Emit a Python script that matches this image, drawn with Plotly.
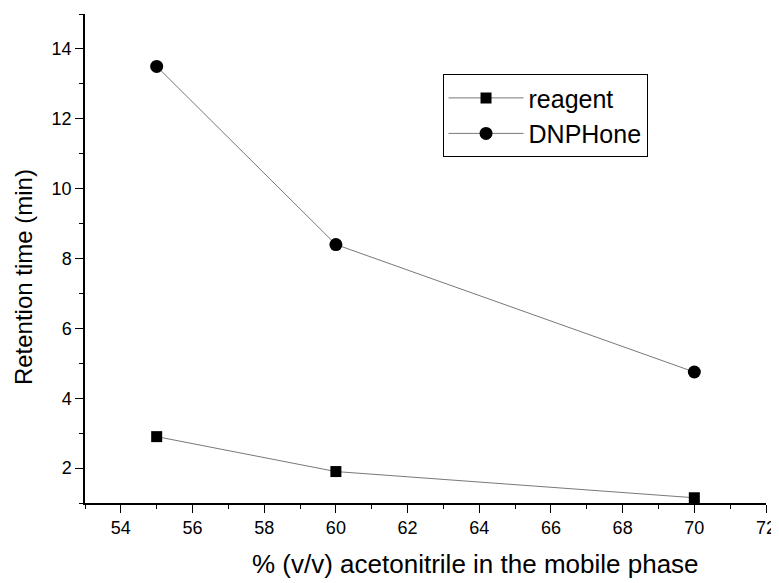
import plotly.graph_objects as go

acetonitrile = [55, 60, 70]
reagent = [2.9, 1.9, 1.15]
dnphone = [13.5, 8.4, 4.75]
x_ticks = [54, 56, 58, 60, 62, 64, 66, 68, 70, 72]
y_ticks = [2, 4, 6, 8, 10, 12, 14]
x_title = "% (v/v) acetonitrile in the mobile phase"
y_title = "Retention time (min)"

FONT = "Liberation Sans, Arial, sans-serif"

fig = go.Figure()
fig.add_trace(go.Scatter(
    x=acetonitrile, y=reagent, mode="lines+markers", name="reagent",
    line=dict(color="#555555", width=0.8),
    marker=dict(symbol="square", size=11, color="black"),
))
fig.add_trace(go.Scatter(
    x=acetonitrile, y=dnphone, mode="lines+markers", name="DNPHone",
    line=dict(color="#555555", width=0.8),
    marker=dict(symbol="circle", size=13, color="black"),
))

axis_common = dict(
    showgrid=False, zeroline=False, showline=True, linecolor="black", linewidth=1.5,
    ticks="outside", ticklen=8, tickwidth=1.3, tickcolor="black",
    tickfont=dict(family=FONT, size=18, color="black"),
    automargin=False,
)

fig.update_xaxes(
    range=[53, 72], tickvals=x_ticks,
    minor=dict(ticks="outside", ticklen=4, tickwidth=1.2, tickcolor="black", dtick=1, tick0=53),
    **axis_common,
)
fig.update_yaxes(
    range=[1, 15], tickvals=y_ticks,
    minor=dict(ticks="outside", ticklen=4, tickwidth=1.2, tickcolor="black", dtick=1, tick0=1),
    **axis_common,
)

fig.add_annotation(
    text=x_title, xref="paper", yref="paper", x=0.574, y=-0.125,
    xanchor="center", yanchor="middle", showarrow=False,
    font=dict(family=FONT, size=26, color="black"),
)
fig.add_annotation(
    text=y_title, xref="paper", yref="paper", x=-0.091, y=0.462,
    xanchor="center", yanchor="middle", showarrow=False, textangle=-90,
    font=dict(family=FONT, size=24, color="black"),
)

# page body has an 8px margin; size the figure so the plot area lands where the reference has it
fig.update_layout(
    width=771, height=575,
    margin=dict(l=77, r=13, t=6, b=80),
    plot_bgcolor="white", paper_bgcolor="white",
    legend=dict(
        x=0.525, y=0.877, xanchor="left", yanchor="top",
        bordercolor="black", borderwidth=1, bgcolor="white",
        font=dict(family=FONT, size=25, color="black"),
        itemwidth=75, tracegroupgap=4,
    ),
)

fig.write_html("out.html")
